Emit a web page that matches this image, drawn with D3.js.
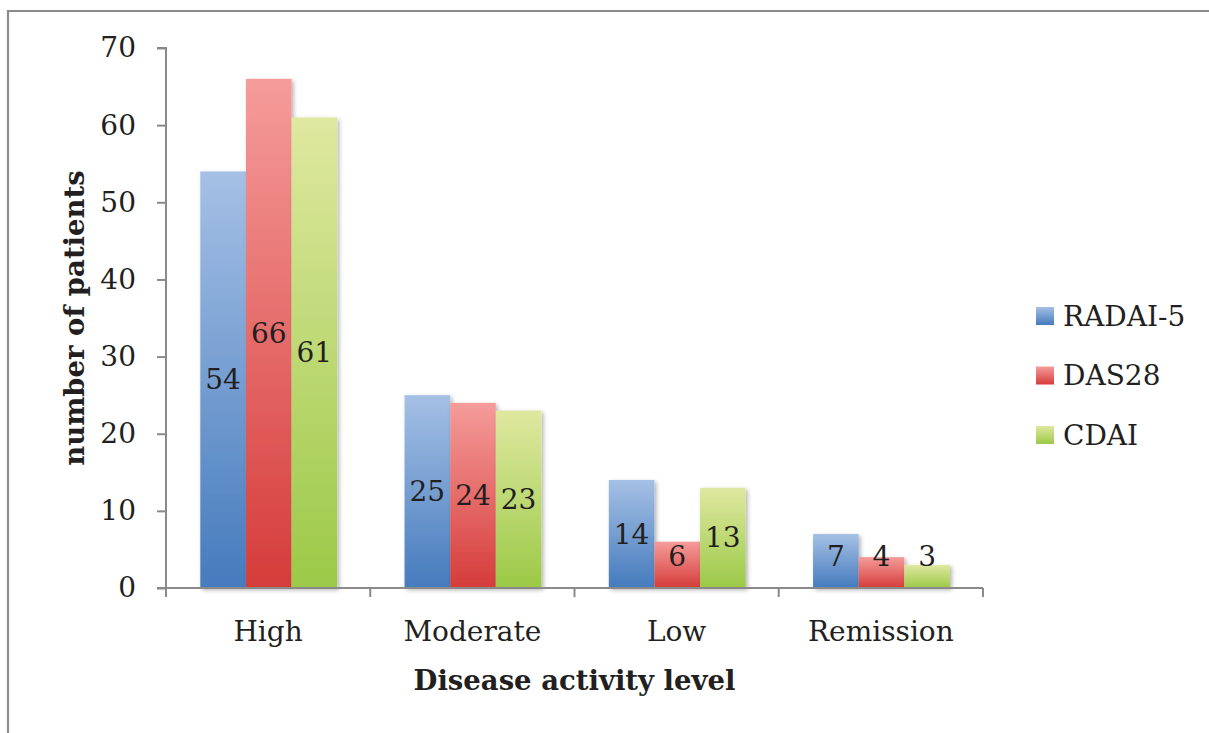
<!DOCTYPE html>
<html>
<head>
<meta charset="utf-8">
<script src="https://cdn.jsdelivr.net/npm/d3@7"></script>
<style>
  html, body { margin: 0; padding: 0; background: #fff; }
  svg { display: block; }
  text { font-family: "DejaVu Serif", serif; fill: #231f20; }
</style>
</head>
<body>
<svg id="chart" width="1209" height="733"></svg>
<script>
// Patients per disease activity level, by scoring index
const categories = ["High", "Moderate", "Low", "Remission"];
const seriesNames = ["RADAI-5", "DAS28", "CDAI"];
const radai5 = [54, 25, 14, 7];
const das28 = [66, 24, 6, 4];
const cdai = [61, 23, 13, 3];
const yTicks = [0, 10, 20, 30, 40, 50, 60, 70];
const yTitle = "number of patients";
const xTitle = "Disease activity level";

const seriesValues = [radai5, das28, cdai];
const gradients = [
  { id: "g-radai", top: "#a5c0e5", bottom: "#457bbd" },
  { id: "g-das", top: "#f59c9a", bottom: "#d53c3a" },
  { id: "g-cdai", top: "#dfe8a0", bottom: "#9bc947" }
];

const svg = d3.select("#chart");
const defs = svg.append("defs");

gradients.forEach(g => {
  const lg = defs.append("linearGradient")
    .attr("id", g.id).attr("x1", 0).attr("y1", 0).attr("x2", 0).attr("y2", 1);
  lg.append("stop").attr("offset", "0%").attr("stop-color", g.top);
  lg.append("stop").attr("offset", "100%").attr("stop-color", g.bottom);
});

const shadow = defs.append("filter").attr("id", "shadow")
  .attr("x", "-20%").attr("y", "-20%").attr("width", "150%").attr("height", "150%");
shadow.append("feDropShadow").attr("dx", 2).attr("dy", 2)
  .attr("stdDeviation", 2).attr("flood-color", "#000").attr("flood-opacity", 0.3);

const lineShadow = defs.append("filter").attr("id", "lineShadow")
  .attr("x", "-5%").attr("y", "-200%").attr("width", "110%").attr("height", "500%");
lineShadow.append("feDropShadow").attr("dx", 0).attr("dy", 1.5)
  .attr("stdDeviation", 1).attr("flood-color", "#000").attr("flood-opacity", 0.25);

// Outer frame (top and left edges visible)
svg.append("path")
  .attr("d", "M8,733 V11 H1209")
  .attr("fill", "none").attr("stroke", "#8c8c8c").attr("stroke-width", 2.2);

const plot = { left: 166, right: 983, top: 48, bottom: 588 };

const y = d3.scaleLinear().domain([0, 70]).range([plot.bottom, plot.top]);
const x0 = d3.scaleBand().domain(categories).range([plot.left, plot.right]).padding(0);
const bw = x0.bandwidth();
const x1 = d3.scaleBand().domain(seriesNames).range([bw * 0.168, bw * 0.838]).padding(0);

// Horizontal gridlines
svg.append("g").selectAll("line")
  .data(yTicks.filter(t => t > 0))
  .join("line")
  .attr("x1", plot.left).attr("x2", plot.right)
  .attr("y1", d => y(d)).attr("y2", d => y(d))
  .attr("stroke", "#8a8a8a").attr("stroke-width", 2)
  .attr("filter", "url(#lineShadow)");

// Bars
const groups = svg.append("g").selectAll("g")
  .data(categories)
  .join("g")
  .attr("transform", d => `translate(${x0(d)},0)`);

const cells = groups.selectAll("g")
  .data((c, i) => seriesNames.map((s, j) => ({ series: s, j, value: seriesValues[j][i] })))
  .join("g");

cells.append("rect")
  .attr("x", d => x1(d.series))
  .attr("width", x1.bandwidth())
  .attr("y", d => y(d.value))
  .attr("height", d => y(0) - y(d.value))
  .attr("fill", d => `url(#${gradients[d.j].id})`)
  .attr("filter", "url(#shadow)");

// Value labels, centred in each bar (kept clear of the baseline)
cells.append("text")
  .attr("x", d => x1(d.series) + x1.bandwidth() / 2)
  .attr("y", d => Math.min((y(d.value) + y(0)) / 2, y(0) - 32))
  .attr("text-anchor", "middle")
  .attr("dominant-baseline", "central")
  .attr("font-size", 28)
  .text(d => d.value);

// Y axis
const yAxis = d3.axisLeft(y).tickValues(yTicks).tickSize(9).tickPadding(21);
const yg = svg.append("g").attr("transform", `translate(${plot.left},0)`).call(yAxis);
yg.select(".domain").attr("stroke", "#8a8a8a").attr("stroke-width", 2)
  .attr("d", `M-9,${plot.top}H0V${plot.bottom + 9}`);
yg.selectAll(".tick line").attr("stroke", "#8a8a8a").attr("stroke-width", 2);
yg.selectAll(".tick text").attr("font-size", 28).attr("font-family", "DejaVu Serif").attr("fill", "#231f20");

// X axis
const xAxis = d3.axisBottom(x0).tickSize(0).tickPadding(33);
const xg = svg.append("g").attr("transform", `translate(0,${plot.bottom})`).call(xAxis);
xg.select(".domain").attr("stroke", "#8a8a8a").attr("stroke-width", 2)
  .attr("d", `M${plot.left - 9},0H${plot.right}`);
xg.selectAll(".tick text").attr("font-size", 28).attr("font-family", "DejaVu Serif")
  .attr("fill", "#231f20").attr("dy", "0.71em");
// Category boundary ticks
xg.append("g").selectAll("line")
  .data(categories.map(c => x0(c)).concat([plot.right]))
  .join("line")
  .attr("x1", d => d).attr("x2", d => d)
  .attr("y1", 0).attr("y2", 9)
  .attr("stroke", "#8a8a8a").attr("stroke-width", 2);

// Axis titles
svg.append("text")
  .attr("transform", `translate(84,${(plot.top + plot.bottom) / 2}) rotate(-90)`)
  .attr("text-anchor", "middle")
  .attr("font-size", 27.5).attr("font-weight", "bold")
  .text(yTitle);

svg.append("text")
  .attr("x", (plot.left + plot.right) / 2)
  .attr("y", 690)
  .attr("text-anchor", "middle")
  .attr("font-size", 27.5).attr("font-weight", "bold")
  .text(xTitle);

// Legend
const legend = svg.append("g").attr("transform", "translate(1036,316)");
const items = legend.selectAll("g")
  .data(seriesNames)
  .join("g")
  .attr("transform", (d, i) => `translate(0,${i * 59.5})`);
items.append("rect")
  .attr("x", 0).attr("y", -9).attr("width", 18).attr("height", 18)
  .attr("fill", (d, i) => `url(#${gradients[i].id})`);
items.append("text")
  .attr("x", 27).attr("y", 0)
  .attr("dominant-baseline", "central")
  .attr("font-size", 28)
  .text(d => d);
</script>
</body>
</html>
